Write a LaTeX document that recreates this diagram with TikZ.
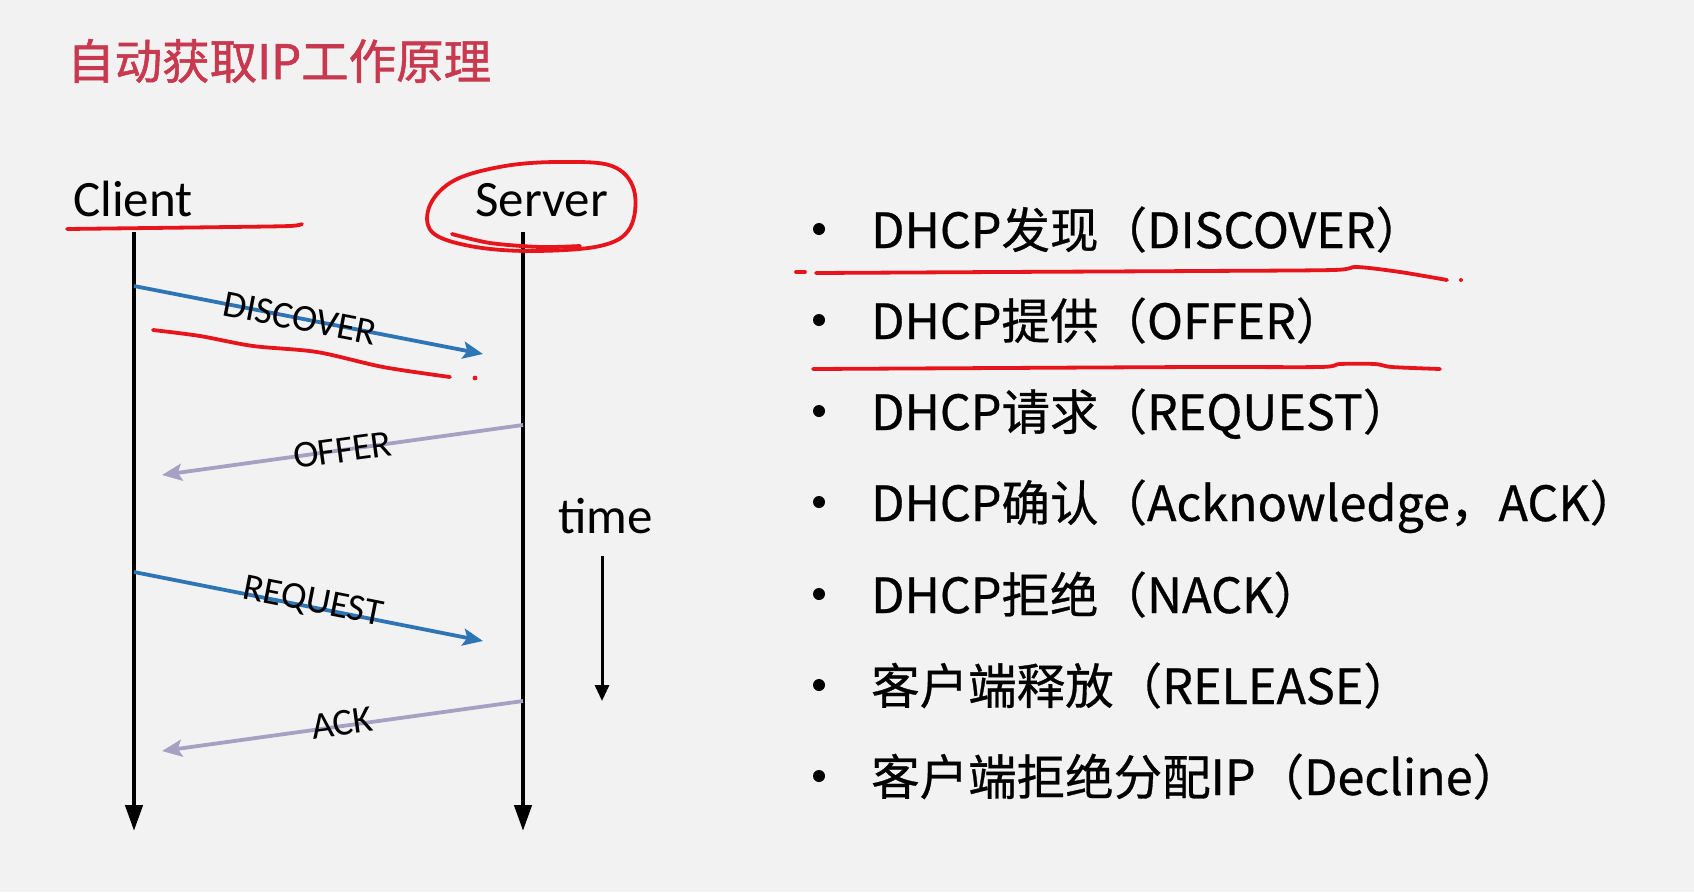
\documentclass[tikz,border=0pt]{standalone}
\usepackage{fontspec}
\setmainfont{Carlito}
\newfontfamily\cjk[FakeBold=0.6]{Noto Sans CJK SC}
\newfontfamily\cjktitle[FakeBold=1.2]{Noto Sans CJK SC}
\usetikzlibrary{arrows.meta}
\definecolor{bg}{HTML}{F2F2F2}
\definecolor{titlered}{HTML}{C8384F}
\definecolor{msgblue}{HTML}{2E75B6}
\definecolor{msggray}{HTML}{A6A1C2}
\definecolor{pen}{HTML}{E8141C}
\tikzset{
  actor/.style={anchor=base west, inner sep=0pt, font=\fontsize{51}{56}\selectfont},
  lifeline/.style={line width=4.4pt, -{Triangle[length=26pt,width=17pt]}},
  timeline/.style={line width=3pt, -{Triangle[length=16pt,width=14pt]}},
  msgto/.style={draw=msgblue, line width=3.8pt, -{Stealth[length=20pt,width=17pt,inset=4pt]}},
  msgback/.style={draw=msggray, line width=3.8pt, -{Stealth[length=20pt,width=17pt,inset=4pt]}},
  msglabel/.style={sloped, inner sep=0pt, font=\fontsize{38}{42}\selectfont, text=black},
  bulletdot/.style={circle, fill=black, inner sep=0pt, minimum size=12pt},
  itemtext/.style={anchor=base west, inner sep=0pt, font=\cjk\fontsize{48.5}{52}\selectfont},
  penline/.style={draw=pen, line width=3.8pt, line cap=round, line join=round},
}
\begin{document}
\begin{tikzpicture}[x=1pt,y=-1pt]
\fill[bg] (0,0) rectangle (1694,892);
\useasboundingbox (0,0) rectangle (1694,892);

% title
\node[anchor=base west, inner sep=0pt, font=\cjktitle\fontsize{47.5}{52}\selectfont, text=titlered] (title) at (67,79) {自动获取IP工作原理};

% actors
\node[actor] (client) at (73,216) {Client};
\node[actor] (server) at (475,216) {Server};

\coordinate (ctop) at (134,232);
\coordinate (cbot) at (134,831);
\coordinate (stop) at (523,232);
\coordinate (sbot) at (523,831);
\draw[lifeline] (ctop) -- (cbot);
\draw[lifeline] (stop) -- (sbot);

% messages
\coordinate (d1) at (134,286);  \coordinate (d2) at (483,354);
\coordinate (o1) at (523,425);  \coordinate (o2) at (162,475);
\coordinate (r1) at (134,572);  \coordinate (r2) at (483,641);
\coordinate (a1) at (523,701);  \coordinate (a2) at (162,751);
\draw[msgto] (d1) -- node[msglabel, pos=0.476] (ldisc) {DISCOVER} (d2);
\draw[msgback] (o1) -- node[msglabel, pos=0.5] (loffer) {OFFER} (o2);
\draw[msgto] (r1) -- node[msglabel, pos=0.51, yshift=5pt] (lreq) {REQUEST} (r2);
\draw[msgback] (a1) -- node[msglabel, pos=0.5, yshift=3pt] (lack) {ACK} (a2);

% time
\node[anchor=base west, inner sep=0pt, font=\fontsize{51}{56}\selectfont] (time) at (558,533) {time};
\coordinate (t1) at (602,556);
\coordinate (t2) at (602,701);
\draw[timeline] (t1) -- (t2);

% bullet list
\foreach \i/\y/\txt in {1/229/{DHCP发现（DISCOVER）},
                        2/320/{DHCP提供（OFFER）},
                        3/411/{DHCP请求（REQUEST）},
                        4/502/{DHCP确认（Acknowledge，ACK）},
                        5/594/{DHCP拒绝（NACK）},
                        6/685/{客户端释放（RELEASE）},
                        7/776/{客户端拒绝分配IP（Decline）}}{
  \node[bulletdot] (b\i) at (819,\y) {};
  \node[itemtext] (it\i) at (871,\y+19) {\txt};
}

% hand-drawn red pen marks
\draw[penline] plot[smooth] coordinates {(67,229) (150,228) (230,227) (290,226) (302,224)};
\draw[penline] plot[smooth cycle, tension=0.6] coordinates {(430,205) (455,180) (505,166) (560,162) (612,166) (634,190) (630,228) (600,246) (530,251) (470,246) (432,232)};
\draw[penline] plot[smooth] coordinates {(452,234) (490,243) (540,247) (580,246)};
\draw[penline] plot[smooth] coordinates {(153,330) (200,336) (253,346) (317,352) (383,367) (450,377)};
\fill[pen] (475,378) circle (2.4pt);
\draw[penline] (796,272) -- (805,272);
\draw[penline] plot[smooth] coordinates {(816,273) (1000,272) (1200,271) (1333,270) (1357,267) (1400,272) (1447,280)};
\fill[pen] (1461,280) circle (2pt);
\draw[penline] plot[smooth] coordinates {(813,369) (1000,368) (1200,367) (1320,367) (1340,364) (1375,364) (1392,367) (1440,369)};
\end{tikzpicture}
\end{document}
